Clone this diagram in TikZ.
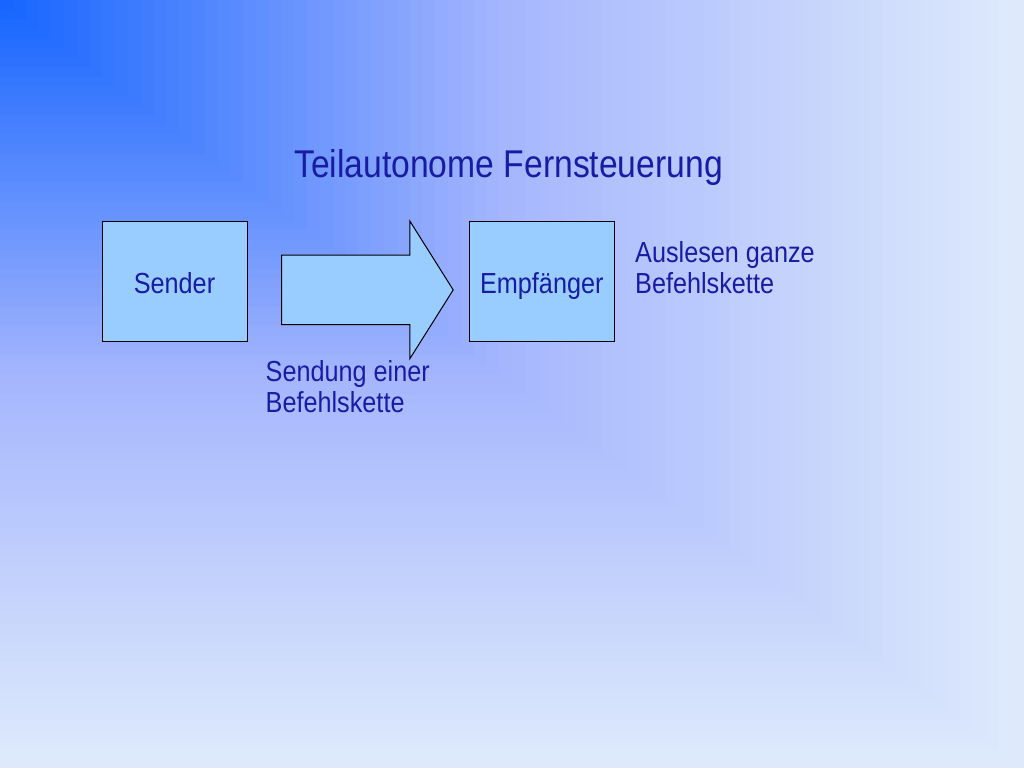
\documentclass[tikz,border=0pt]{standalone}
\usepackage{fontspec}
\newfontfamily\slidefont[FakeStretch=0.87]{Liberation Sans}
\usetikzlibrary{shapes.arrows,positioning}
\definecolor{deepblue}{RGB}{20,100,255}
\definecolor{midblue}{RGB}{165,182,253}
\definecolor{paleblue}{RGB}{222,234,252}
\definecolor{boxblue}{RGB}{153,204,255}
\definecolor{inkblue}{RGB}{24,28,165}
\tikzstyle{unit} = [draw=black, line width=1pt, fill=boxblue, minimum width=145pt, minimum height=120pt, inner sep=0pt, text height=24pt, text depth=0pt, text=inkblue, font=\slidefont\fontsize{29}{31}\selectfont]
\tikzstyle{note} = [anchor=base west, align=left, inner sep=0pt, text=inkblue, font=\slidefont\fontsize{29}{30.8}\selectfont]
\tikzstyle{sendarrow} = [single arrow, draw=black, line width=1pt, fill=boxblue, text height=0pt, text depth=0pt, inner xsep=0pt, inner ysep=34.3pt, single arrow head extend=34.2pt, single arrow tip angle=115.6, minimum height=171.7pt]

\begin{document}
\begin{tikzpicture}[x=1pt,y=-1pt]
      \useasboundingbox (0,0) rectangle (1024,768);
      % background, from the upper left corner
      \foreach \i in {80,79,...,1} {
        \pgfmathsetmacro\t{\i/80}
        \pgfmathsetmacro\p{\t<=0.5 ? 200*\t : 200*\t-100}
        \ifdim\t pt>0.5pt
          \colorlet{bgstep}{paleblue!\p!midblue}
        \else
          \colorlet{bgstep}{midblue!\p!deepblue}
        \fi
        \fill[bgstep] (0,0) rectangle (1024*\t,768*\t);
      }
      \node[anchor=base, text=inkblue, font=\slidefont\fontsize{38.7}{44}\selectfont] (title) at (508.5,177) {Teilautonome Fernsteuerung};
      \node[unit] (sender) at (174.5,281.3) {Sender};
      \node[unit] (empf) at (541.8,281.3) {Empf\"anger};
      \node[sendarrow, anchor=tail] (send) at (281,289.9) {};
      % base of a two-line note is its last line
      \node[note] (sendtxt) at (265.5,412) {Sendung einer\\Befehlskette};
      \node[note] (readtxt) at (635,293) {Auslesen ganze\\Befehlskette};
\end{tikzpicture}
\end{document}
